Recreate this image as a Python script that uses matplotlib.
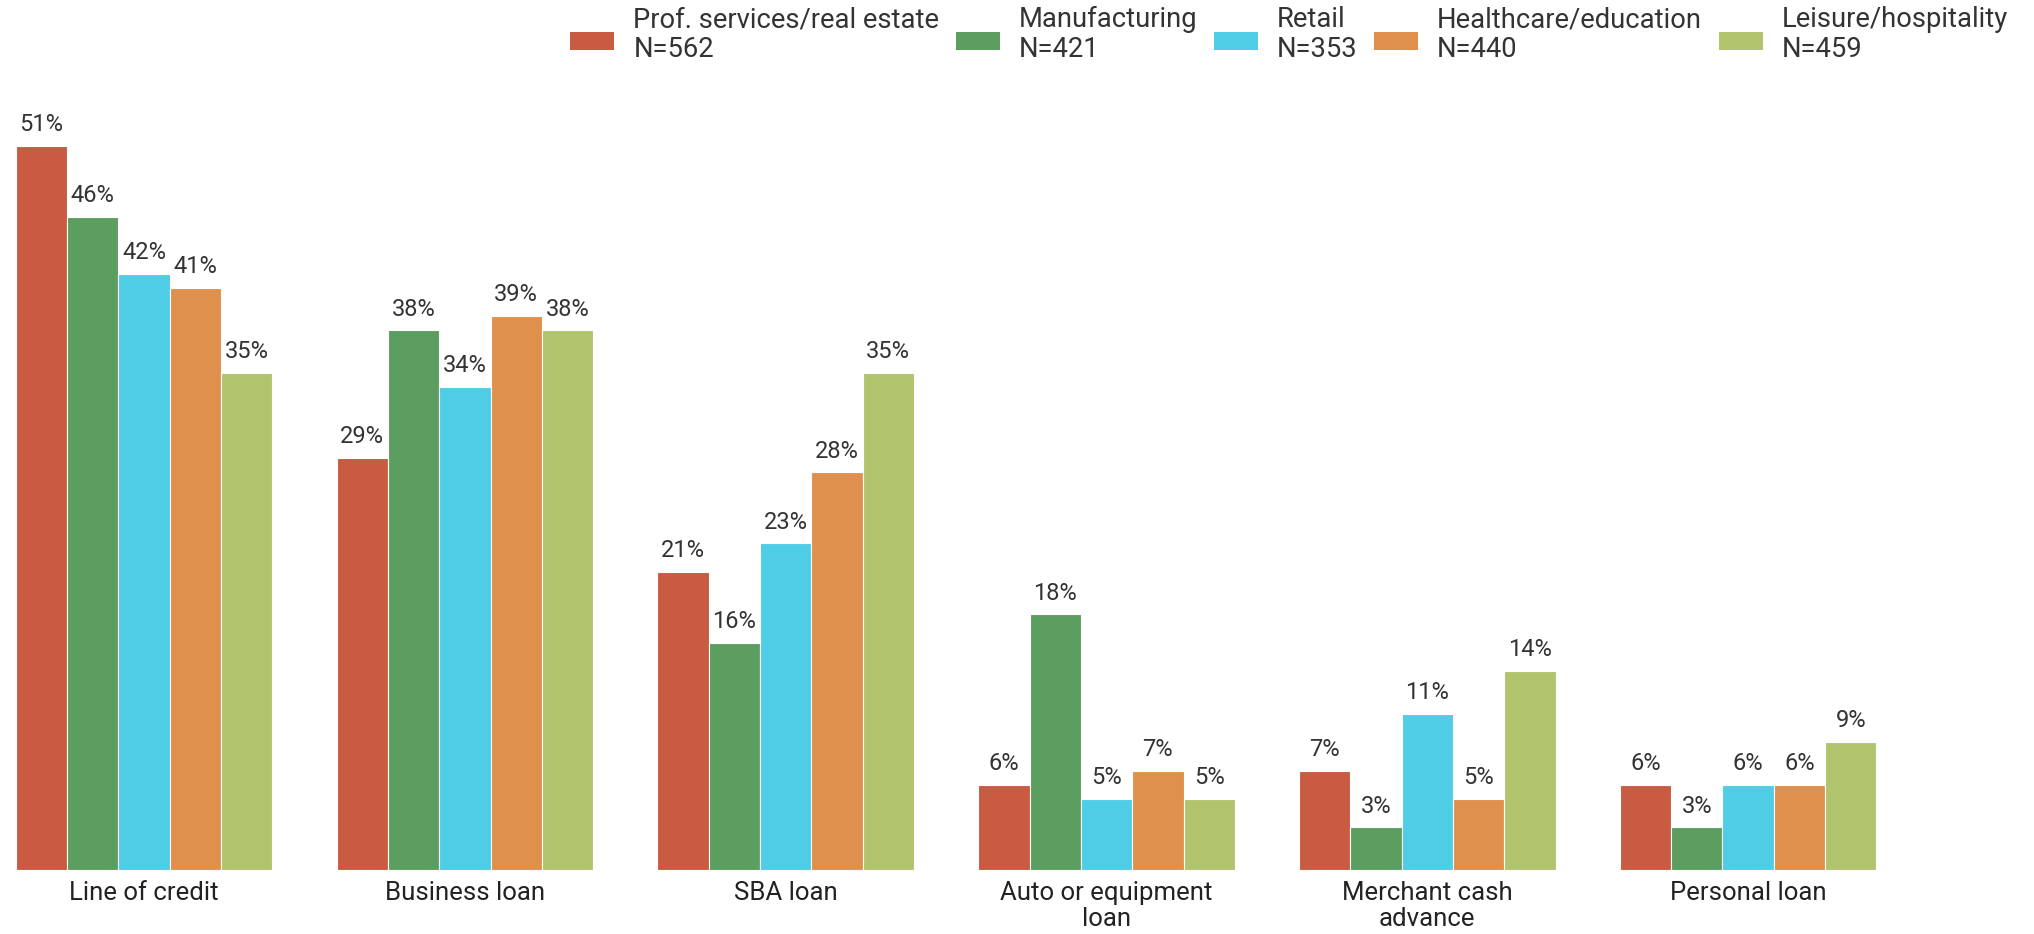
import numpy as np
import matplotlib
matplotlib.use("Agg")
import matplotlib.pyplot as plt
from matplotlib.patches import Patch, Rectangle
from matplotlib.legend_handler import HandlerPatch

plt.rcParams["font.family"] = ["Roboto", "DejaVu Sans"]

categories = ["Line of credit", "Business loan", "SBA loan",
              "Auto or equipment\nloan", "Merchant cash\nadvance", "Personal loan"]
industries = ["Prof. services/real estate", "Manufacturing", "Retail",
              "Healthcare/education", "Leisure/hospitality"]
sample_sizes = [562, 421, 353, 440, 459]

prof_services = [51, 29, 21, 6, 7, 6]
manufacturing = [46, 38, 16, 18, 3, 3]
retail = [42, 34, 23, 5, 11, 6]
healthcare = [41, 39, 28, 7, 5, 6]
leisure = [35, 38, 35, 5, 14, 9]

series = [prof_services, manufacturing, retail, healthcare, leisure]
colors = ["#C95B42", "#5B9E5F", "#4FCDE6", "#DF904C", "#B0C46E"]


def low_patch(legend, orig_handle, xdescent, ydescent, width, height, fontsize):
    # legend swatch sits a little below the middle of the two text lines
    return Rectangle((-xdescent, -ydescent - 0.2 * fontsize), width, height)


W, H = 2034, 934
fig = plt.figure(figsize=(W / 100, H / 100), dpi=100)
base = 870
top = 89
ax = fig.add_axes([0, (H - base) / H, 1, (base - top) / H])

x = np.arange(len(categories))
bw = 0.16
for i, (vals, col) in enumerate(zip(series, colors)):
    pos = x + (i - 2) * bw
    bars = ax.bar(pos, vals, width=bw, color=col, edgecolor="white", linewidth=0.8)
    for b, v in zip(bars, vals):
        ax.annotate(f"{v}%", (b.get_x() + b.get_width() / 2, v),
                    xytext=(0, 7), textcoords="offset points",
                    ha="center", va="bottom", fontsize=17, color="#333333")

ax.set_xlim(-0.449, 5.891)
ax.set_ylim(0, 55)
ax.set_xticks(x)
ax.set_xticklabels(categories, fontsize=18.5, color="#222222", linespacing=1.1)
ax.tick_params(axis="x", length=0, pad=8)
ax.set_yticks([])
for s in ax.spines.values():
    s.set_visible(False)

handles = [Patch(facecolor=c, edgecolor="none") for c in colors]
labels = [f"{n}\nN={k}" for n, k in zip(industries, sample_sizes)]
leg = fig.legend(handles, labels, loc="upper right",
                 bbox_to_anchor=(2008 / W, 1 - 6 / H),
                 ncol=5, frameon=False, fontsize=19.75, handlelength=1.6,
                 handleheight=0.6, handletextpad=0.7, columnspacing=0.6,
                 borderaxespad=0, borderpad=0,
                 handler_map={Patch: HandlerPatch(patch_func=low_patch)})
for t in leg.get_texts():
    t.set_color("#333333")
    t.set_linespacing(1.15)

fig.savefig("out.png", dpi=100)
